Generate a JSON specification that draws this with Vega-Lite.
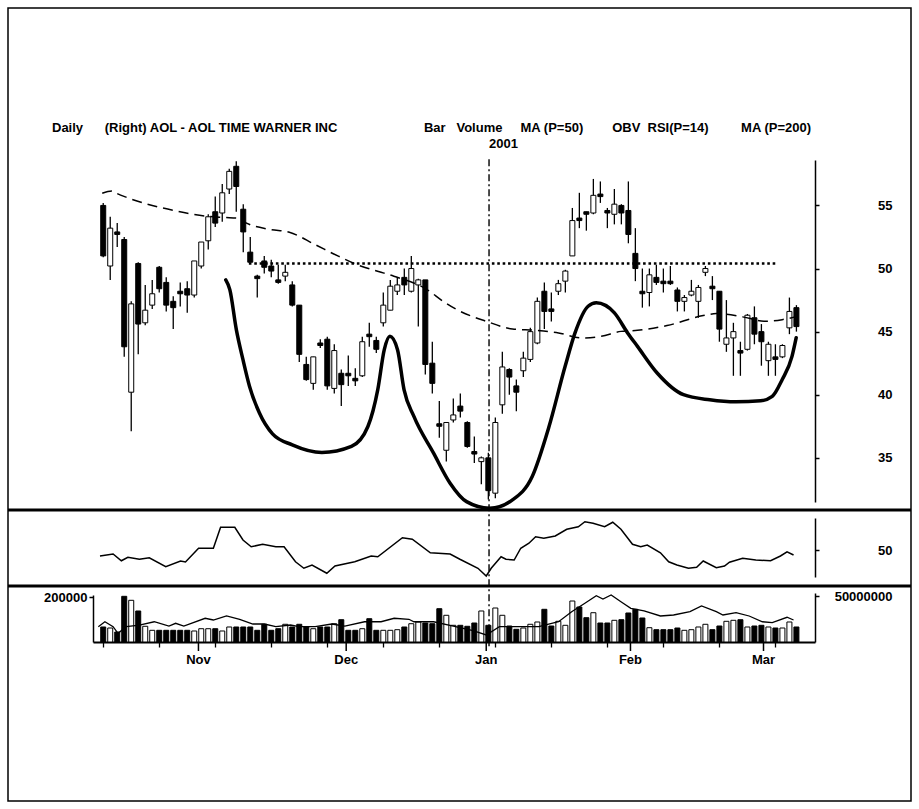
{
"$schema": "https://vega.github.io/schema/vega-lite/v6.json",
"width": 903, "height": 793,
"autosize": {"type": "none"},
"padding": {"left": 8, "top": 8, "right": 8, "bottom": 8},
"background": "white",
"title": {
 "text": "Daily\u00a0\u00a0\u00a0\u00a0\u00a0\u00a0(Right) AOL - AOL TIME WARNER INC\u00a0\u00a0\u00a0\u00a0\u00a0\u00a0\u00a0\u00a0\u00a0\u00a0\u00a0\u00a0\u00a0\u00a0\u00a0\u00a0\u00a0\u00a0\u00a0\u00a0\u00a0\u00a0\u00a0\u00a0Bar\u00a0\u00a0\u00a0Volume\u00a0\u00a0\u00a0\u00a0\u00a0MA (P=50)\u00a0\u00a0\u00a0\u00a0\u00a0\u00a0\u00a0\u00a0OBV\u00a0\u00a0RSI(P=14)\u00a0\u00a0\u00a0\u00a0\u00a0\u00a0\u00a0\u00a0\u00a0MA (P=200)",
 "subtitle": "\u200b\u00a0\u00a0\u00a0\u00a0\u00a0\u00a0\u00a0\u00a0\u00a0\u00a0\u00a0\u00a0\u00a0\u00a0\u00a0\u00a0\u00a0\u00a0\u00a0\u00a0\u00a0\u00a0\u00a0\u00a0\u00a0\u00a0\u00a0\u00a0\u00a0\u00a0\u00a0\u00a0\u00a0\u00a0\u00a0\u00a0\u00a0\u00a0\u00a0\u00a0\u00a0\u00a0\u00a0\u00a0\u00a0\u00a0\u00a0\u00a0\u00a0\u00a0\u00a0\u00a0\u00a0\u00a0\u00a0\u00a0\u00a0\u00a0\u00a0\u00a0\u00a0\u00a0\u00a0\u00a0\u00a0\u00a0\u00a0\u00a0\u00a0\u00a0\u00a0\u00a0\u00a0\u00a0\u00a0\u00a0\u00a0\u00a0\u00a0\u00a0\u00a0\u00a0\u00a0\u00a0\u00a0\u00a0\u00a0\u00a0\u00a0\u00a0\u00a0\u00a0\u00a0\u00a0\u00a0\u00a0\u00a0\u00a0\u00a0\u00a0\u00a0\u00a0\u00a0\u00a0\u00a0\u00a0\u00a0\u00a0\u00a0\u00a0\u00a0\u00a0\u00a0\u00a0\u00a0\u00a0\u00a0\u00a0\u00a0\u00a0\u00a02001",
 "anchor": "start", "frame": "group", "offset": 0, "dx": 44, "dy": 143,
 "font": "Liberation Sans", "fontSize": 13, "fontWeight": "bold", "color": "black",
 "subtitleFont": "Liberation Sans", "subtitleFontSize": 13, "subtitleFontWeight": "bold", "subtitleColor": "black", "subtitlePadding": 3
},
"datasets": {
 "candles": [
{"i":0,"o":55.0,"h":55.2,"l":50.9,"c":51.0,"d":"d","v":66700},
{"i":1,"o":50.2,"h":54.1,"l":49.1,"c":53.2,"d":"u","v":62200},
{"i":2,"o":52.9,"h":53.6,"l":51.7,"c":52.7,"d":"d","v":44400},
{"i":3,"o":52.3,"h":52.5,"l":43.0,"c":43.8,"d":"d","v":203000},
{"i":4,"o":40.2,"h":47.4,"l":37.1,"c":47.2,"d":"u","v":185300},
{"i":5,"o":50.4,"h":50.5,"l":43.2,"c":45.6,"d":"d","v":137800},
{"i":6,"o":45.7,"h":48.7,"l":45.5,"c":46.7,"d":"u","v":69800},
{"i":7,"o":47.1,"h":49.1,"l":46.8,"c":48.0,"d":"u","v":52000},
{"i":8,"o":50.1,"h":50.2,"l":48.1,"c":48.4,"d":"d","v":52000},
{"i":9,"o":48.9,"h":49.3,"l":46.6,"c":47.1,"d":"d","v":52000},
{"i":10,"o":47.4,"h":47.8,"l":45.2,"c":46.9,"d":"d","v":52000},
{"i":11,"o":48.2,"h":48.9,"l":47.0,"c":48.0,"d":"d","v":52000},
{"i":12,"o":48.4,"h":49.0,"l":46.5,"c":47.9,"d":"d","v":52000},
{"i":13,"o":47.9,"h":50.6,"l":47.7,"c":50.6,"d":"u","v":48900},
{"i":14,"o":50.2,"h":52.1,"l":50.0,"c":52.1,"d":"u","v":59100},
{"i":15,"o":52.2,"h":54.3,"l":51.5,"c":54.1,"d":"u","v":59100},
{"i":16,"o":54.5,"h":55.7,"l":53.3,"c":53.6,"d":"d","v":59100},
{"i":17,"o":54.4,"h":56.7,"l":53.7,"c":56.0,"d":"u","v":48900},
{"i":18,"o":56.3,"h":57.9,"l":55.9,"c":57.7,"d":"u","v":66700},
{"i":19,"o":58.1,"h":58.5,"l":54.5,"c":56.5,"d":"d","v":66700},
{"i":20,"o":54.7,"h":55.1,"l":51.3,"c":52.9,"d":"d","v":66700},
{"i":21,"o":51.3,"h":52.5,"l":50.5,"c":50.5,"d":"d","v":66700},
{"i":22,"o":49.4,"h":49.5,"l":47.7,"c":49.2,"d":"d","v":52000},
{"i":23,"o":50.6,"h":51.0,"l":49.6,"c":50.1,"d":"d","v":78700},
{"i":24,"o":50.2,"h":50.7,"l":49.3,"c":49.8,"d":"d","v":52000},
{"i":25,"o":49.1,"h":50.3,"l":48.8,"c":48.9,"d":"d","v":59100},
{"i":26,"o":49.4,"h":50.3,"l":49.0,"c":49.7,"d":"u","v":78700},
{"i":27,"o":48.7,"h":49.0,"l":47.0,"c":47.1,"d":"d","v":66700},
{"i":28,"o":47.1,"h":47.1,"l":42.6,"c":43.2,"d":"d","v":78700},
{"i":29,"o":42.4,"h":43.0,"l":41.1,"c":41.2,"d":"d","v":66700},
{"i":30,"o":40.9,"h":43.0,"l":40.4,"c":43.0,"d":"u","v":59100},
{"i":31,"o":44.1,"h":44.4,"l":43.7,"c":43.9,"d":"d","v":66700},
{"i":32,"o":44.4,"h":44.6,"l":40.4,"c":40.7,"d":"d","v":66700},
{"i":33,"o":40.5,"h":44.0,"l":40.1,"c":43.5,"d":"u","v":81300},
{"i":34,"o":41.7,"h":42.0,"l":39.1,"c":40.8,"d":"d","v":99100},
{"i":35,"o":41.7,"h":43.1,"l":40.7,"c":41.5,"d":"d","v":52000},
{"i":36,"o":41.3,"h":42.1,"l":40.7,"c":41.1,"d":"d","v":52000},
{"i":37,"o":41.5,"h":44.6,"l":41.4,"c":44.2,"d":"u","v":59100},
{"i":38,"o":44.8,"h":45.7,"l":43.8,"c":44.6,"d":"d","v":103500},
{"i":39,"o":44.3,"h":44.6,"l":43.3,"c":43.6,"d":"d","v":52000},
{"i":40,"o":45.7,"h":48.1,"l":45.4,"c":47.1,"d":"u","v":52000},
{"i":41,"o":46.7,"h":49.1,"l":46.7,"c":48.6,"d":"u","v":52000},
{"i":42,"o":48.2,"h":49.3,"l":47.9,"c":48.7,"d":"u","v":54700},
{"i":43,"o":49.3,"h":50.0,"l":47.9,"c":48.7,"d":"d","v":66700},
{"i":44,"o":48.2,"h":51.0,"l":48.1,"c":50.0,"d":"u","v":81300},
{"i":45,"o":48.7,"h":49.2,"l":45.4,"c":49.1,"d":"u","v":88900},
{"i":46,"o":49.1,"h":49.1,"l":41.6,"c":42.4,"d":"d","v":84400},
{"i":47,"o":42.5,"h":44.2,"l":40.1,"c":40.9,"d":"d","v":81300},
{"i":48,"o":37.7,"h":39.5,"l":36.6,"c":37.5,"d":"d","v":148000},
{"i":49,"o":35.6,"h":37.8,"l":34.7,"c":37.8,"d":"u","v":118700},
{"i":50,"o":38.0,"h":39.7,"l":37.8,"c":38.4,"d":"u","v":74200},
{"i":51,"o":39.1,"h":40.1,"l":38.2,"c":38.7,"d":"d","v":74200},
{"i":52,"o":37.8,"h":37.9,"l":35.8,"c":35.9,"d":"d","v":69800},
{"i":53,"o":35.5,"h":36.7,"l":34.6,"c":35.3,"d":"d","v":84400},
{"i":54,"o":34.7,"h":35.1,"l":32.9,"c":35.0,"d":"u","v":137800},
{"i":55,"o":35.0,"h":35.4,"l":31.7,"c":32.4,"d":"d","v":74200},
{"i":56,"o":32.2,"h":38.2,"l":31.8,"c":37.8,"d":"u","v":151100},
{"i":57,"o":39.2,"h":43.4,"l":38.5,"c":42.2,"d":"u","v":118700},
{"i":58,"o":42.0,"h":42.1,"l":40.0,"c":41.4,"d":"d","v":71100},
{"i":59,"o":40.7,"h":41.2,"l":38.7,"c":40.2,"d":"d","v":56400},
{"i":60,"o":41.9,"h":43.4,"l":41.4,"c":42.9,"d":"u","v":62200},
{"i":61,"o":42.8,"h":45.3,"l":42.6,"c":45.0,"d":"u","v":78700},
{"i":62,"o":44.1,"h":47.7,"l":44.0,"c":47.4,"d":"u","v":88900},
{"i":63,"o":48.2,"h":48.9,"l":45.2,"c":46.6,"d":"d","v":145300},
{"i":64,"o":46.8,"h":48.1,"l":45.8,"c":46.6,"d":"d","v":71100},
{"i":65,"o":48.2,"h":49.1,"l":47.9,"c":48.8,"d":"u","v":92000},
{"i":66,"o":49.0,"h":49.9,"l":48.1,"c":49.8,"d":"u","v":74200},
{"i":67,"o":51.0,"h":54.8,"l":51.0,"c":53.8,"d":"u","v":182200},
{"i":68,"o":54.0,"h":56.0,"l":53.2,"c":53.8,"d":"d","v":155500},
{"i":69,"o":54.5,"h":54.5,"l":53.0,"c":54.3,"d":"d","v":108000},
{"i":70,"o":54.4,"h":57.1,"l":54.3,"c":55.8,"d":"u","v":130200},
{"i":71,"o":55.9,"h":56.9,"l":55.2,"c":55.7,"d":"d","v":84400},
{"i":72,"o":54.6,"h":54.8,"l":53.2,"c":54.4,"d":"d","v":84400},
{"i":73,"o":54.3,"h":56.3,"l":53.5,"c":55.1,"d":"u","v":96400},
{"i":74,"o":55.0,"h":55.1,"l":53.5,"c":54.4,"d":"d","v":99100},
{"i":75,"o":54.6,"h":56.9,"l":52.0,"c":52.7,"d":"d","v":128900},
{"i":76,"o":51.2,"h":53.2,"l":49.0,"c":50.0,"d":"d","v":145300},
{"i":77,"o":48.2,"h":50.0,"l":46.9,"c":48.0,"d":"d","v":106700},
{"i":78,"o":48.1,"h":50.0,"l":47.0,"c":49.5,"d":"u","v":63600},
{"i":79,"o":49.3,"h":50.3,"l":48.7,"c":48.9,"d":"d","v":54700},
{"i":80,"o":49.0,"h":50.0,"l":48.1,"c":48.8,"d":"d","v":54700},
{"i":81,"o":49.0,"h":50.2,"l":48.7,"c":48.8,"d":"d","v":54700},
{"i":82,"o":48.3,"h":48.5,"l":46.6,"c":47.4,"d":"d","v":62200},
{"i":83,"o":47.4,"h":47.9,"l":46.6,"c":47.7,"d":"u","v":52000},
{"i":84,"o":47.9,"h":49.1,"l":47.8,"c":48.2,"d":"u","v":54700},
{"i":85,"o":47.4,"h":48.7,"l":46.1,"c":48.5,"d":"u","v":66700},
{"i":86,"o":49.7,"h":50.2,"l":49.4,"c":50.0,"d":"u","v":78700},
{"i":87,"o":48.6,"h":49.4,"l":47.5,"c":48.4,"d":"d","v":54700},
{"i":88,"o":48.2,"h":48.2,"l":44.2,"c":45.2,"d":"d","v":71100},
{"i":89,"o":44.0,"h":47.5,"l":43.4,"c":44.5,"d":"u","v":92000},
{"i":90,"o":44.5,"h":45.7,"l":41.5,"c":45.0,"d":"u","v":96400},
{"i":91,"o":43.5,"h":44.2,"l":41.5,"c":43.3,"d":"d","v":99100},
{"i":92,"o":43.6,"h":46.4,"l":43.5,"c":46.3,"d":"u","v":66700},
{"i":93,"o":46.1,"h":47.0,"l":44.0,"c":44.8,"d":"d","v":71100},
{"i":94,"o":45.0,"h":45.6,"l":42.3,"c":44.2,"d":"d","v":74200},
{"i":95,"o":42.7,"h":44.2,"l":41.5,"c":44.0,"d":"u","v":66700},
{"i":96,"o":43.0,"h":44.0,"l":41.5,"c":42.8,"d":"d","v":62200},
{"i":97,"o":43.0,"h":44.0,"l":42.9,"c":43.9,"d":"u","v":62200},
{"i":98,"o":45.3,"h":47.7,"l":44.8,"c":46.6,"d":"u","v":88900},
{"i":99,"o":46.9,"h":47.1,"l":45.0,"c":45.4,"d":"d","v":66700}
 ],
 "ma": [
{"i":-0.14,"ma":55.97},{"i":1.23,"ma":56.15},{"i":1.93,"ma":55.95},{"i":3.48,"ma":55.61},{"i":10.52,"ma":54.55},{"i":14.75,"ma":54.15},{"i":17.14,"ma":54.05},{"i":19.54,"ma":53.97},{"i":19.96,"ma":53.75},{"i":23.76,"ma":53.1},{"i":26.58,"ma":52.88},{"i":30.24,"ma":51.9},{"i":33.58,"ma":50.98},{"i":36.86,"ma":50.18},{"i":39.68,"ma":49.71},{"i":41.51,"ma":49.39},{"i":46.25,"ma":48.33},{"i":48.55,"ma":47.4},{"i":50.48,"ma":46.75},{"i":54.7,"ma":45.82},{"i":58.45,"ma":45.21},{"i":61.75,"ma":45.1},{"i":65.03,"ma":44.9},{"i":68.31,"ma":44.5},{"i":71.13,"ma":44.63},{"i":73.94,"ma":45.02},{"i":76.3,"ma":45.1},{"i":80.52,"ma":45.48},{"i":85.69,"ma":46.27},{"i":87.56,"ma":46.43},{"i":91.32,"ma":46.17},{"i":94.6,"ma":45.82},{"i":96.96,"ma":45.95},{"i":98.83,"ma":46.17}
 ],
 "curve": [
{"i":17.5,"cv":49.1},{"i":18.08,"cv":48.33},{"i":19.01,"cv":45.16},{"i":19.96,"cv":42.78},{"i":20.9,"cv":40.66},{"i":22.31,"cv":38.55},{"i":24.18,"cv":36.9},{"i":27.0,"cv":36.03},{"i":31.23,"cv":35.42},{"i":35.45,"cv":35.9},{"i":37.8,"cv":37.48},{"i":39.21,"cv":40.4},{"i":40.14,"cv":43.57},{"i":40.94,"cv":44.63},{"i":42.03,"cv":43.57},{"i":42.96,"cv":40.4},{"i":44.37,"cv":38.28},{"i":47.18,"cv":35.37},{"i":49.54,"cv":32.99},{"i":51.89,"cv":31.53},{"i":55.17,"cv":31.01},{"i":58.45,"cv":31.67},{"i":61.27,"cv":33.52},{"i":63.62,"cv":37.38},{"i":65.97,"cv":42.25},{"i":67.38,"cv":44.9},{"i":69.25,"cv":47.01},{"i":70.42,"cv":47.28},{"i":73.01,"cv":46.48},{"i":74.89,"cv":44.9},{"i":76.3,"cv":43.83},{"i":79.11,"cv":41.72},{"i":82.87,"cv":40.0},{"i":86.62,"cv":39.6},{"i":90.38,"cv":39.44},{"i":93.9,"cv":39.52},{"i":95.55,"cv":39.87},{"i":96.96,"cv":41.19},{"i":98.37,"cv":43.04},{"i":98.97,"cv":44.52}
 ],
 "rsi": [
{"i":-0.46,"rsi":47.6},{"i":1.41,"rsi":48.4},{"i":2.59,"rsi":45.7},{"i":3.52,"rsi":47.1},{"i":5.17,"rsi":46.3},{"i":6.58,"rsi":46.9},{"i":8.93,"rsi":43.3},{"i":11.04,"rsi":45.6},{"i":11.75,"rsi":45.2},{"i":13.62,"rsi":50.7},{"i":15.73,"rsi":50.7},{"i":16.76,"rsi":59.1},{"i":18.79,"rsi":59.1},{"i":19.96,"rsi":54.0},{"i":21.13,"rsi":51.3},{"i":22.77,"rsi":52.3},{"i":24.65,"rsi":51.3},{"i":25.83,"rsi":51.3},{"i":27.46,"rsi":45.3},{"i":28.65,"rsi":42.7},{"i":29.82,"rsi":44.0},{"i":31.93,"rsi":40.7},{"i":33.1,"rsi":43.6},{"i":35.92,"rsi":45.3},{"i":38.27,"rsi":47.6},{"i":39.21,"rsi":47.3},{"i":42.73,"rsi":54.9},{"i":44.14,"rsi":54.3},{"i":46.72,"rsi":48.9},{"i":49.54,"rsi":48.4},{"i":50.94,"rsi":46.3},{"i":53.52,"rsi":42.7},{"i":54.7,"rsi":39.6},{"i":55.41,"rsi":42.7},{"i":56.82,"rsi":47.3},{"i":57.52,"rsi":46.3},{"i":58.69,"rsi":46.0},{"i":59.63,"rsi":50.7},{"i":60.8,"rsi":52.7},{"i":61.75,"rsi":55.3},{"i":62.92,"rsi":54.7},{"i":64.56,"rsi":55.6},{"i":66.2,"rsi":58.3},{"i":67.85,"rsi":59.3},{"i":68.79,"rsi":61.3},{"i":69.96,"rsi":60.7},{"i":71.61,"rsi":59.3},{"i":72.77,"rsi":61.1},{"i":73.94,"rsi":58.3},{"i":75.59,"rsi":52.3},{"i":76.76,"rsi":51.3},{"i":77.7,"rsi":52.0},{"i":79.58,"rsi":48.9},{"i":80.76,"rsi":45.3},{"i":81.93,"rsi":44.0},{"i":83.58,"rsi":42.7},{"i":84.75,"rsi":43.1},{"i":85.69,"rsi":45.6},{"i":87.56,"rsi":42.9},{"i":88.73,"rsi":43.6},{"i":89.44,"rsi":45.1},{"i":91.32,"rsi":46.7},{"i":93.2,"rsi":46.0},{"i":95.31,"rsi":45.7},{"i":96.72,"rsi":47.6},{"i":97.66,"rsi":49.3},{"i":98.59,"rsi":48.0}
 ],
 "obv": [
{"i":-0.7,"obv":16800000},{"i":0.24,"obv":22200000},{"i":1.41,"obv":16800000},{"i":2.11,"obv":9500000},{"i":3.3,"obv":16800000},{"i":5.17,"obv":18600000},{"i":7.28,"obv":22200000},{"i":9.39,"obv":17500000},{"i":10.34,"obv":20500000},{"i":11.51,"obv":17500000},{"i":14.56,"obv":26000000},{"i":15.73,"obv":24100000},{"i":17.61,"obv":28500000},{"i":19.49,"obv":24900000},{"i":21.37,"obv":19700000},{"i":23.01,"obv":19700000},{"i":24.65,"obv":16800000},{"i":26.76,"obv":18600000},{"i":27.94,"obv":16800000},{"i":30.28,"obv":16800000},{"i":32.63,"obv":19700000},{"i":34.51,"obv":17500000},{"i":37.32,"obv":22200000},{"i":39.68,"obv":22200000},{"i":41.55,"obv":26000000},{"i":43.66,"obv":24900000},{"i":44.37,"obv":22200000},{"i":47.18,"obv":22200000},{"i":50.0,"obv":17500000},{"i":52.82,"obv":12400000},{"i":54.7,"obv":7700000},{"i":56.58,"obv":16800000},{"i":59.39,"obv":16800000},{"i":62.21,"obv":16800000},{"i":65.03,"obv":22200000},{"i":66.9,"obv":33200000},{"i":68.79,"obv":42400000},{"i":70.42,"obv":50700000},{"i":71.37,"obv":47100000},{"i":72.54,"obv":51500000},{"i":73.94,"obv":44200000},{"i":75.35,"obv":36900000},{"i":77.24,"obv":34000000},{"i":79.58,"obv":28500000},{"i":81.46,"obv":29600000},{"i":83.8,"obv":33200000},{"i":85.45,"obv":39500000},{"i":87.56,"obv":33200000},{"i":88.51,"obv":29600000},{"i":90.38,"obv":32100000},{"i":92.25,"obv":28500000},{"i":94.14,"obv":22200000},{"i":95.55,"obv":21200000},{"i":97.66,"obv":27100000},{"i":98.59,"obv":24100000}
 ],
 "months": [
{"i":13.6,"m":"Nov"},{"i":34.7,"m":"Dec"},{"i":54.7,"m":"Jan"},{"i":75.3,"m":"Feb"},{"i":94.3,"m":"Mar"}
 ]
},
"resolve": {"scale": {"y": "independent"}, "axis": {"y": "independent"}},
"layer": [
 {
  "layer": [
   {"data": {"name": "candles"},
    "mark": {"type": "rule", "color": "black", "strokeWidth": 1.3},
    "encoding": {
     "x": {"field": "i", "type": "quantitative", "scale": {"domain": [-0.746, 100.94], "range": [85, 807], "nice": false, "zero": false},
       "axis": {"orient": "bottom", "offset": -159, "title": null, "grid": false, "labels": false,
        "values": [0,1,2,3,4,5,6,7,8,9,10,11,12,13,13.6,15,16,17,18,19,20,21,22,23,24,25,26,27,28,29,30,31,32,33,34,34.7,36,37,38,39,40,41,42,43,44,45,46,47,48,49,50,51,52,53,54,54.7,56,57,58,59,60,61,62,63,64,65,66,67,68,69,70,71,72,73,74,75.3,76,77,78,79,80,81,82,83,84,85,86,87,88,89,90,91,92,93,94.3,95,96,97,98,99],
        "tickSize": 5, "domainWidth": 2, "tickWidth": 1.3}},
     "y": {"field": "l", "type": "quantitative", "scale": {"domain": [31.5, 58.6], "range": [494, 152], "nice": false, "zero": false},
       "axis": {"orient": "right", "offset": -96, "title": null, "grid": false, "values": [35,40,45,50,55], "tickSize": 4, "labelAlign": "right", "labelPadding": 73, "labelBaseline": "middle", "domainWidth": 1.5, "tickWidth": 1.5}},
     "y2": {"field": "h"}
    }},
   {"data": {"name": "candles"},
    "mark": {"type": "bar", "size": 5, "stroke": "black", "strokeWidth": 1},
    "encoding": {
     "x": {"field": "i", "type": "quantitative", "scale": {"domain": [-0.746, 100.94], "range": [85, 807], "nice": false, "zero": false}},
     "y": {"field": "o", "type": "quantitative", "scale": {"domain": [31.5, 58.6], "range": [494, 152], "nice": false, "zero": false}},
     "y2": {"field": "c"},
     "color": {"field": "d", "type": "nominal", "scale": {"domain": ["u", "d"], "range": ["white", "black"]}, "legend": null}
    }},
   {"data": {"name": "ma"},
    "mark": {"type": "line", "color": "black", "strokeWidth": 1.5, "strokeDash": [10, 6], "interpolate": "monotone"},
    "encoding": {
     "x": {"field": "i", "type": "quantitative", "scale": {"domain": [-0.746, 100.94], "range": [85, 807], "nice": false, "zero": false}},
     "y": {"field": "ma", "type": "quantitative", "scale": {"domain": [31.5, 58.6], "range": [494, 152], "nice": false, "zero": false}}
    }},
   {"data": {"values": [{"i": 20.8, "i2": 96.0, "p": 50.4}]},
    "mark": {"type": "rule", "color": "black", "strokeWidth": 2.6, "strokeDash": [2.6, 2.8]},
    "encoding": {
     "x": {"field": "i", "type": "quantitative", "scale": {"domain": [-0.746, 100.94], "range": [85, 807], "nice": false, "zero": false}},
     "x2": {"field": "i2"},
     "y": {"field": "p", "type": "quantitative", "scale": {"domain": [31.5, 58.6], "range": [494, 152], "nice": false, "zero": false}}
    }},
   {"data": {"name": "curve"},
    "mark": {"type": "line", "color": "black", "strokeWidth": 3.5, "interpolate": "monotone", "strokeCap": "round"},
    "encoding": {
     "x": {"field": "i", "type": "quantitative", "scale": {"domain": [-0.746, 100.94], "range": [85, 807], "nice": false, "zero": false}},
     "y": {"field": "cv", "type": "quantitative", "scale": {"domain": [31.5, 58.6], "range": [494, 152], "nice": false, "zero": false}}
    }},
   {"data": {"values": [{"i": 55.1, "top": 58.65, "bot": 20.0}]},
    "mark": {"type": "rule", "color": "black", "strokeWidth": 1.4, "strokeDash": [7, 3, 2, 3]},
    "encoding": {
     "x": {"field": "i", "type": "quantitative", "scale": {"domain": [-0.746, 100.94], "range": [85, 807], "nice": false, "zero": false}},
     "y": {"field": "top", "type": "quantitative", "scale": {"domain": [31.5, 58.6], "range": [494, 152], "nice": false, "zero": false}},
     "y2": {"field": "bot"}
    }},
   {"data": {"values": [{}]},
    "mark": {"type": "rule", "color": "black", "strokeWidth": 3},
    "encoding": {
     "y": {"datum": 30.87, "type": "quantitative", "scale": {"domain": [31.5, 58.6], "range": [494, 152], "nice": false, "zero": false}}
    }}
  ]
 },
 {
  "layer": [
   {"data": {"name": "rsi"},
    "mark": {"type": "line", "color": "black", "strokeWidth": 1.5},
    "encoding": {
     "x": {"field": "i", "type": "quantitative", "scale": {"domain": [-0.746, 100.94], "range": [85, 807], "nice": false, "zero": false}},
     "y": {"field": "rsi", "type": "quantitative", "scale": {"domain": [39.2, 62.8], "range": [569, 510], "nice": false, "zero": false},
       "axis": {"orient": "right", "offset": -96, "title": null, "grid": false, "values": [50], "tickSize": 4, "labelAlign": "right", "labelPadding": 73, "labelBaseline": "middle", "domainWidth": 1.5, "tickWidth": 1.5}}
    }},
   {"data": {"values": [{}]},
    "mark": {"type": "rule", "color": "black", "strokeWidth": 3},
    "encoding": {
     "y": {"datum": 35.6, "type": "quantitative", "scale": {"domain": [39.2, 62.8], "range": [569, 510], "nice": false, "zero": false}}
    }}
  ]
 },
 {
  "layer": [
   {"data": {"name": "candles"},
    "mark": {"type": "bar", "size": 5, "stroke": "black", "strokeWidth": 1},
    "encoding": {
     "x": {"field": "i", "type": "quantitative", "scale": {"domain": [-0.746, 100.94], "range": [85, 807], "nice": false, "zero": false}},
     "y": {"field": "v", "type": "quantitative", "scale": {"domain": [0, 208900], "range": [634, 587], "nice": false},
       "axis": {"orient": "left", "offset": -85, "title": null, "grid": false, "values": [200000], "format": "d", "tickSize": 4, "labelPadding": 2, "labelBaseline": "middle", "domainWidth": 1.5, "tickWidth": 1.5}},
     "color": {"field": "d", "type": "nominal", "scale": {"domain": ["u", "d"], "range": ["white", "black"]}, "legend": null}
    }},
   {"data": {"name": "months"},
    "mark": {"type": "rule", "color": "black", "strokeWidth": 1.5},
    "encoding": {
     "x": {"field": "i", "type": "quantitative", "scale": {"domain": [-0.746, 100.94], "range": [85, 807], "nice": false, "zero": false}},
     "y": {"datum": 0, "type": "quantitative", "scale": {"domain": [0, 208900], "range": [634, 587], "nice": false}},
     "y2": {"datum": -40000}
    }},
   {"data": {"name": "months"},
    "mark": {"type": "text", "color": "black", "font": "Liberation Sans", "fontWeight": "bold", "fontSize": 13, "align": "center", "baseline": "middle"},
    "encoding": {
     "x": {"field": "i", "type": "quantitative", "scale": {"domain": [-0.746, 100.94], "range": [85, 807], "nice": false, "zero": false}},
     "y": {"datum": -80000, "type": "quantitative", "scale": {"domain": [0, 208900], "range": [634, 587], "nice": false}},
     "text": {"field": "m"}
    }}
  ]
 },
 {
  "layer": [
   {"data": {"name": "obv"},
    "mark": {"type": "line", "color": "black", "strokeWidth": 1.3},
    "encoding": {
     "x": {"field": "i", "type": "quantitative", "scale": {"domain": [-0.746, 100.94], "range": [85, 807], "nice": false, "zero": false}},
     "y": {"field": "obv", "type": "quantitative", "scale": {"domain": [0, 53700000], "range": [634, 585], "nice": false},
       "axis": {"orient": "right", "offset": -96, "title": null, "grid": false, "values": [50000000], "format": "d", "tickSize": 4, "labelAlign": "right", "labelPadding": 73, "labelBaseline": "middle", "domainWidth": 1.5, "tickWidth": 1.5}}
    }}
  ]
 }
],
"config": {
 "view": {"stroke": "black", "strokeWidth": 1.5},
 "font": "Liberation Sans",
 "axis": {"domainColor": "black", "tickColor": "black", "labelColor": "black", "labelFont": "Liberation Sans", "labelFontWeight": "bold", "labelFontSize": 13}
}
}
